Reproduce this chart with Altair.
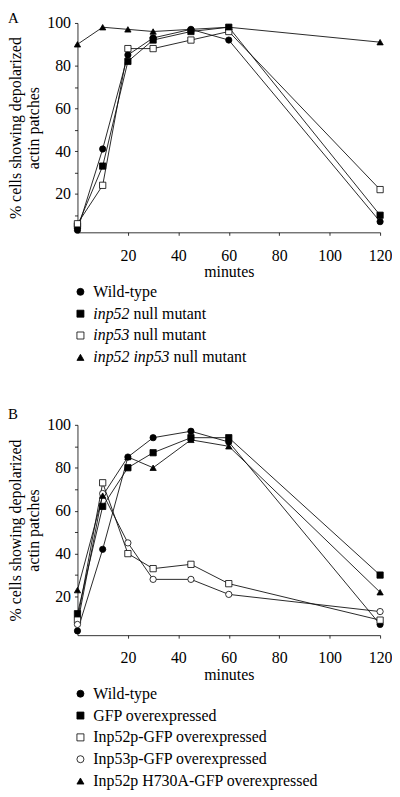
import altair as alt
import pandas as pd

# ---------------- data ----------------
minutes = [0, 10, 20, 30, 45, 60, 120]

a_series = ["Wild-type", "inp52 null mutant", "inp53 null mutant", "inp52 inp53 null mutant"]
a_italic = ["", "inp52", "inp53", "inp52 inp53"]
a_plain = ["Wild-type", "null mutant", "null mutant", "null mutant"]
a_wild_type = [3, 41, 85, 93, 97, 92, 7]
a_inp52 = [5, 33, 82, 92, 96, 98, 10]
a_inp53 = [6, 24, 88, 88, 92, 96, 22]
a_inp52_inp53 = [90, 98, 97, 96, 97, 98, 91]

b_series = ["Wild-type", "GFP overexpressed", "Inp52p-GFP overexpressed",
            "Inp53p-GFP overexpressed", "Inp52p H730A-GFP overexpressed"]
b_italic = ["", "", "", "", ""]
b_plain = b_series
b_wild_type = [4, 42, 85, 94, 97, 92, 7]
b_gfp = [12, 62, 80, 87, 94, 94, 30]
b_inp52p_gfp = [9, 73, 40, 33, 35, 26, 9]
b_inp53p_gfp = [7, 68, 45, 28, 28, 21, 13]
b_h730a_gfp = [23, 67, 85, 80, 93, 90, 22]

# marker styles (scale ranges)
a_shapes = ["circle", "square", "square", "triangle-up"]
a_fills = ["black", "black", "white", "black"]
b_shapes = ["circle", "square", "square", "circle", "triangle-up"]
b_fills = ["black", "black", "white", "white", "black"]

x_ticks = [20, 40, 60, 80, 100, 120]
y_ticks = [10, 20, 30, 40, 50, 60, 70, 80, 90, 100]
y_title = ["% cells showing depolarized", "actin patches"]

FONT = "Liberation Serif"
FS = 16


def long_frame(names, series_values):
    rows = []
    for name, vals in zip(names, series_values):
        for m, v in zip(minutes, vals):
            rows.append({"series": name, "minutes": m, "pct": v})
    return pd.DataFrame(rows)


def panel(df, names, shapes, fills, letter, letter_y, height):
    x = alt.X("minutes:Q",
              scale=alt.Scale(domain=[0, 120], nice=False),
              axis=alt.Axis(values=x_ticks, title="minutes", tickSize=3,
                            labelPadding=12, titlePadding=1, labelFlush=False,
                            labelFont=FONT, titleFont=FONT, labelFontSize=FS,
                            titleFontSize=FS, titleFontWeight="normal"))
    y = alt.Y("pct:Q",
              scale=alt.Scale(domain=[2, 100], nice=False, zero=False),
              axis=alt.Axis(values=y_ticks, title=y_title, tickSize=3,
                            labelPadding=4, titlePadding=5, titleLineHeight=18,
                            labelFont=FONT, titleFont=FONT, labelFontSize=FS,
                            titleFontSize=FS, titleFontWeight="normal",
                            labelExpr="datum.value % 20 == 0 ? datum.label : ''"))
    lines = alt.Chart(df).mark_line(color="#111111", strokeWidth=0.9).encode(
        x=x, y=y, detail="series:N")
    points = alt.Chart(df).mark_point(filled=True, stroke="black", strokeWidth=0.8,
                                      opacity=1, size=40).encode(
        x=x, y=y,
        shape=alt.Shape("series:N", scale=alt.Scale(domain=names, range=shapes), legend=None),
        fill=alt.Fill("series:N", scale=alt.Scale(domain=names, range=fills), legend=None))
    label = alt.Chart(pd.DataFrame({"t": [letter]})).mark_text(
        font=FONT, fontSize=15, align="left", baseline="middle", color="black").encode(
        x=alt.value(-70), y=alt.value(letter_y), text="t:N")
    return alt.layer(lines, points, label).properties(width=305, height=height)


ITALIC_W = {"i": 0.278, "n": 0.5, "p": 0.5, "2": 0.5, "3": 0.5, "5": 0.5, " ": 0.25}


def legend(names, italics, plains, shapes, fills):
    offs = []
    for it in italics:
        w = sum(ITALIC_W.get(c, 0.5) for c in it) * FS
        offs.append(16 + (w + 0.25 * FS if it else 0))
    df = pd.DataFrame({"series": names, "ital": italics, "plain": plains, "off": offs})
    y = alt.Y("series:N", sort=names, axis=None,
              scale=alt.Scale(domain=names, padding=0.5))
    pts = alt.Chart(df).mark_point(filled=True, stroke="black", strokeWidth=0.8,
                                   opacity=1, size=50).encode(
        x=alt.value(3), y=y,
        shape=alt.Shape("series:N", scale=alt.Scale(domain=names, range=shapes), legend=None),
        fill=alt.Fill("series:N", scale=alt.Scale(domain=names, range=fills), legend=None))
    ital = alt.Chart(df).mark_text(font=FONT, fontSize=FS, fontStyle="italic",
                                   align="left", baseline="middle", color="black").encode(
        x=alt.value(16), y=y, text="ital:N")
    plain = alt.Chart(df).mark_text(font=FONT, fontSize=FS, align="left",
                                    baseline="middle", color="black").encode(
        x=alt.X("off:Q", scale=None), y=y, text="plain:N")
    return alt.layer(pts, ital, plain).properties(width=305, height=22 * len(names))


df_a = long_frame(a_series, [a_wild_type, a_inp52, a_inp53, a_inp52_inp53])
df_b = long_frame(b_series, [b_wild_type, b_gfp, b_inp52p_gfp, b_inp53p_gfp, b_h730a_gfp])

top = alt.vconcat(
    panel(df_a, a_series, a_shapes, a_fills, "A", -5, 211),
    legend(a_series, a_italic, a_plain, a_shapes, a_fills),
    spacing=1)
bottom = alt.vconcat(
    panel(df_b, b_series, b_shapes, b_fills, "B", -11, 212),
    legend(b_series, b_italic, b_plain, b_shapes, b_fills),
    spacing=0)

chart = alt.vconcat(top, bottom, spacing=39).resolve_scale(
    shape="independent", fill="independent"
).properties(
    padding={"left": 0, "top": 0, "right": 0, "bottom": 0}
).configure(font=FONT).configure_view(stroke=None).configure_axis(
    labelFont=FONT, titleFont=FONT, labelFontSize=FS, titleFontSize=FS,
    labelColor="black", titleColor="black", domainColor="black", tickColor="black",
    titleFontWeight="normal", grid=False, domainWidth=0.8, tickWidth=0.8
)

chart.save("out.html", embed_options={"renderer": "svg", "actions": False})
